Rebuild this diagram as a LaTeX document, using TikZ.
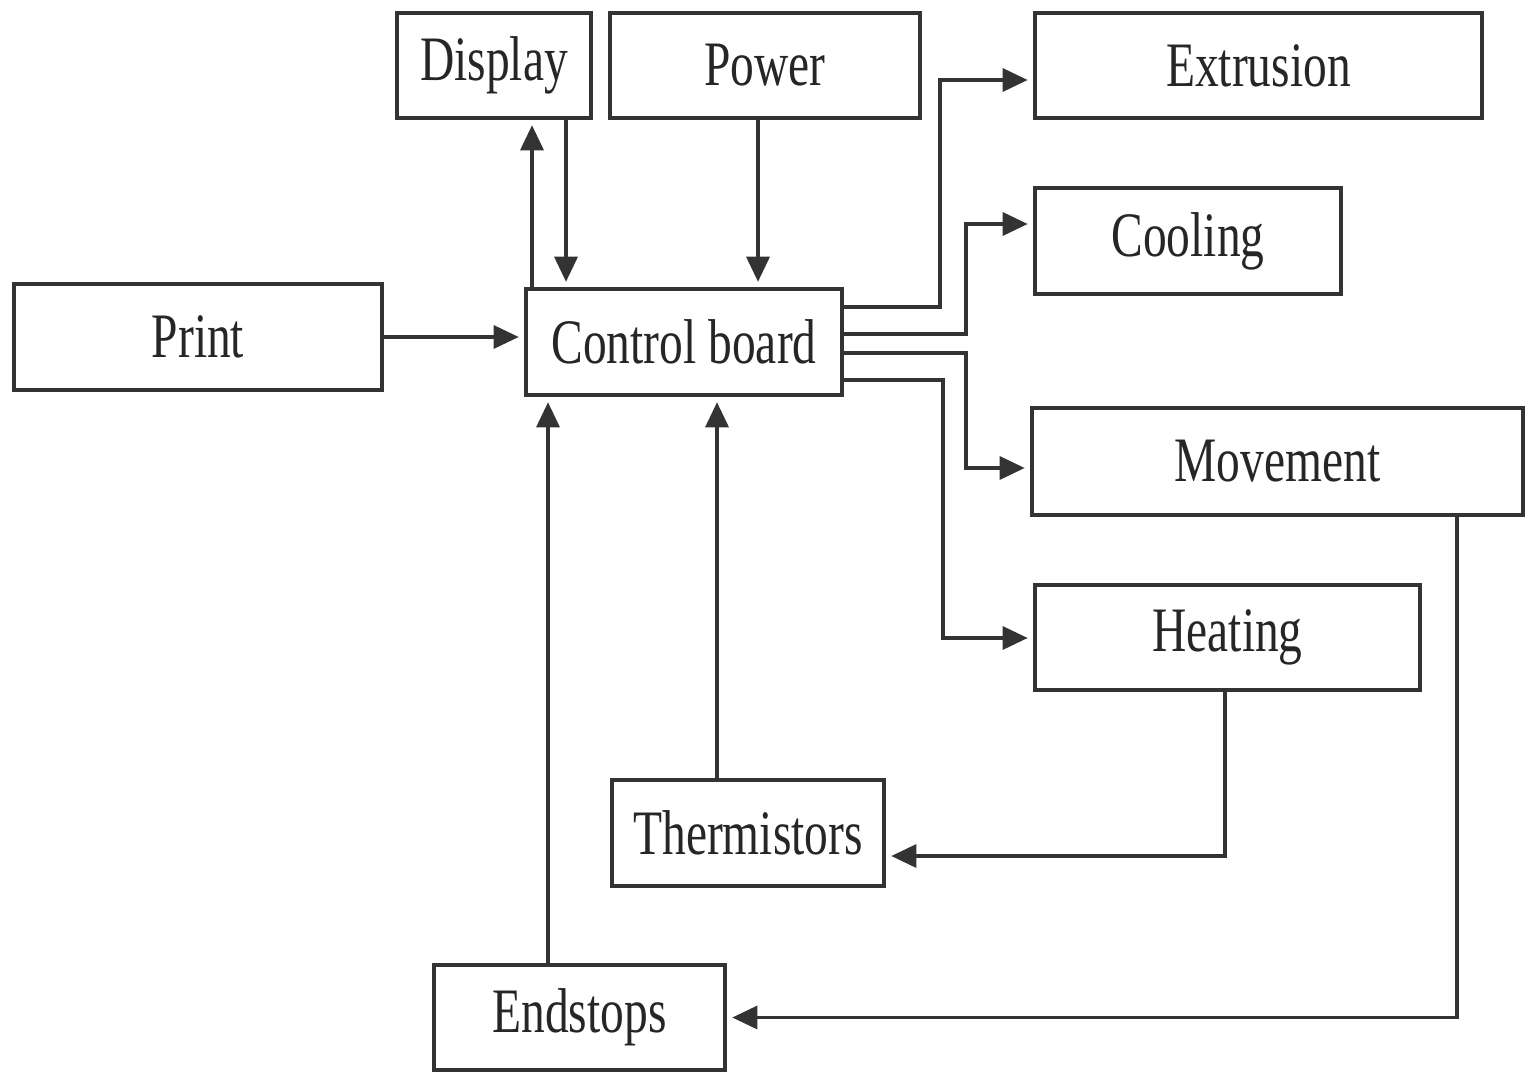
\documentclass[tikz,border=0pt]{standalone}
\usepackage{fontspec}
\newfontfamily\labfont[FakeStretch=0.75]{Liberation Serif}
\usetikzlibrary{arrows.meta}
\begin{document}
\begin{tikzpicture}[x=0.01cm,y=-0.01cm,
  blk/.style={draw=black!80, line width=1.1pt, rectangle, inner sep=0pt,
    font=\labfont\fontsize{18}{20}\selectfont, text=black!85},
  arr/.style={draw=black!80, line width=0.9pt,
    -{Triangle[length=0.25cm,width=0.23cm]}, shorten >=1.5pt}]
\useasboundingbox (0,0) rectangle (1531,1073);
\node[blk, minimum width=1.94cm, minimum height=1.05cm] (disp) at (494,65.5) {Display};
\node[blk, minimum width=3.10cm, minimum height=1.05cm] (pow) at (765,65.5) {Power};
\node[blk, minimum width=4.47cm, minimum height=1.05cm] (ext) at (1258.5,65.5) {Extrusion};
\node[blk, minimum width=3.06cm, minimum height=1.06cm] (cool) at (1188,241) {Cooling};
\node[blk, minimum width=3.68cm, minimum height=1.06cm] (print) at (198,337) {Print};
\node[blk, minimum width=3.16cm, minimum height=1.06cm] (ctrl) at (684,342) {Control board};
\node[blk, minimum width=4.91cm, minimum height=1.07cm] (mov) at (1277.5,461.5) {Movement};
\node[blk, minimum width=3.85cm, minimum height=1.05cm] (heat) at (1227.5,637.5) {Heating};
\node[blk, minimum width=2.72cm, minimum height=1.06cm] (therm) at (748,833) {Thermistors};
\node[blk, minimum width=2.91cm, minimum height=1.05cm] (end) at (579.5,1017.5) {Endstops};

\draw[arr] (print.east) -- (print.east -| ctrl.west);
\draw[arr] (ctrl.north -| 532,0) -- (disp.south -| 532,0);
\draw[arr] (disp.south -| 566,0) -- (ctrl.north -| 566,0);
\draw[arr] (pow.south -| 758,0) -- (ctrl.north -| 758,0);
\draw[arr] (ctrl.east |- 0,307) -- (940,307) |- (ext.west |- 0,80);
\draw[arr] (ctrl.east |- 0,334) -- (966,334) |- (cool.west |- 0,224);
\draw[arr] (ctrl.east |- 0,353) -- (966,353) |- (mov.west |- 0,468);
\draw[arr] (ctrl.east |- 0,380) -- (943,380) |- (heat.west |- 0,638);
\draw[arr] (mov.south -| 1457,0) |- (end.east);
\draw[arr] (heat.south -| 1225,0) |- (therm.east |- 0,856);
\draw[arr] (therm.north -| 717,0) -- (ctrl.south -| 717,0);
\draw[arr] (end.north -| 548,0) -- (ctrl.south -| 548,0);
\end{tikzpicture}
\end{document}
